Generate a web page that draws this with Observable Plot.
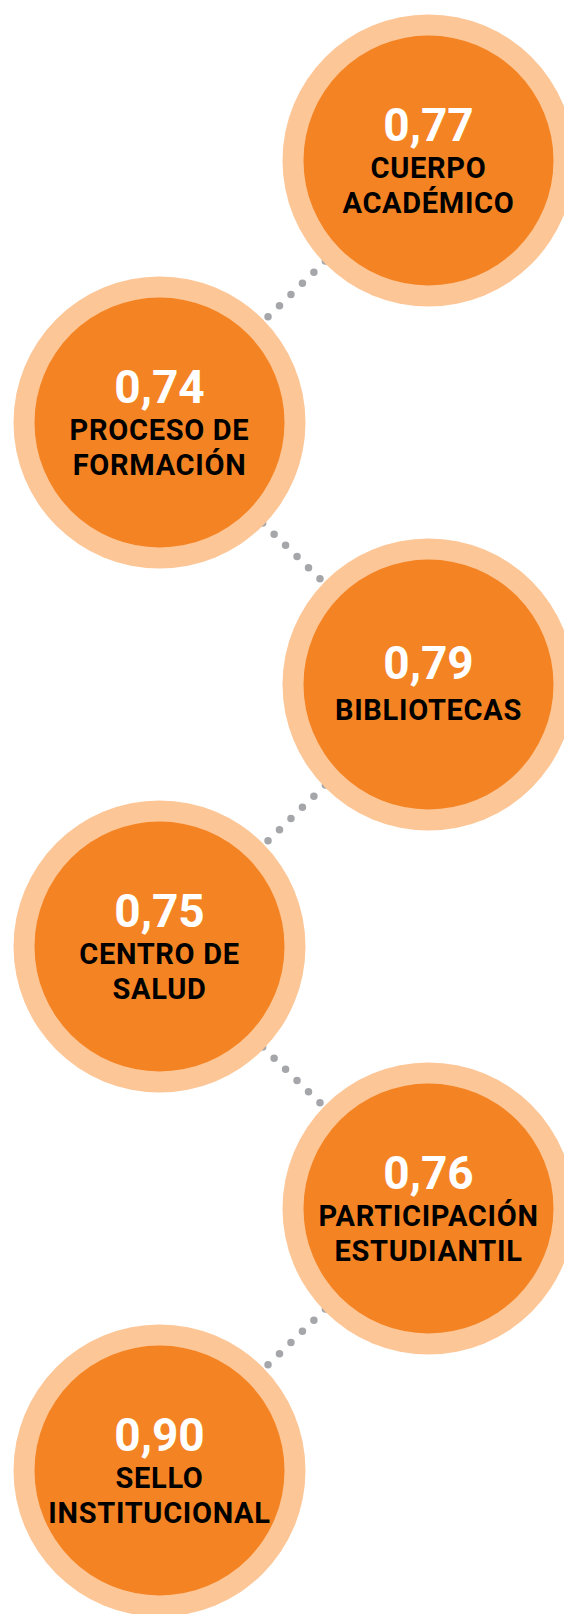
<!DOCTYPE html>
<html><head><meta charset="utf-8">
<script src="https://cdn.jsdelivr.net/npm/d3@7"></script>
<script src="https://cdn.jsdelivr.net/npm/@observablehq/plot@0.6"></script>
<style>html,body{margin:0;padding:0;background:#fff;overflow:hidden}</style>
</head><body><div id="chart"></div>
<script>
const categories = ["CUERPO\nACADÉMICO", "PROCESO DE\nFORMACIÓN", "BIBLIOTECAS", "CENTRO DE\nSALUD", "PARTICIPACIÓN\nESTUDIANTIL", "SELLO\nINSTITUCIONAL"];
const values = [0.77, 0.74, 0.79, 0.75, 0.76, 0.90];
const sides = ["right", "left", "right", "left", "right", "left"];

const fmt = v => d3.format(".2f")(v).replace(".", ",");
const data = categories.map((c, i) => ({
  order: i, side: sides[i], label: c, value: values[i],
  lines: c.split("\n").length, text: fmt(values[i])
}));
const links = data.slice(1).flatMap((d, i) => [
  {link: i, order: data[i].order, side: data[i].side},
  {link: i, order: d.order, side: d.side}
]);

const font = "Roboto, 'DejaVu Sans', sans-serif";
const chart = Plot.plot({
  width: 564, height: 1614,
  marginLeft: 159, marginRight: 136, marginTop: 158, marginBottom: 142,
  x: {type: "point", domain: ["left", "right"], padding: 0, axis: null},
  y: {type: "point", domain: d3.range(categories.length), padding: 0, axis: null},
  style: {fontFamily: font, background: "white", overflow: "visible"},
  marks: [
    Plot.line(links, {x: "side", y: "order", z: "link", stroke: "#A5A6AA", strokeWidth: 7.5,
      strokeDasharray: "0 16", strokeLinecap: "round"}),
    Plot.dot(data, {x: "side", y: "order", r: 146, fill: "#FDC697"}),
    Plot.dot(data, {x: "side", y: "order", r: 125, fill: "#F48423"}),
    Plot.text(data, {filter: d => d.lines > 1, x: "side", y: "order", text: "text", fill: "white",
      fontSize: 46, fontWeight: 700, fontFamily: font, lineAnchor: "bottom", dy: -20}),
    Plot.text(data, {filter: d => d.lines === 1, x: "side", y: "order", text: "text", fill: "white",
      fontSize: 46, fontWeight: 700, fontFamily: font, lineAnchor: "bottom", dy: -6}),
    Plot.text(data, {x: "side", y: "order", text: "label", fill: "#000",
      fontSize: 29, fontWeight: 700, fontFamily: font, lineAnchor: "middle", lineHeight: 1.2, dy: 24})
  ]
});
d3.select(chart).selectAll('g[fill="#000"] text').style("letter-spacing", "0.7px");
document.getElementById("chart").appendChild(chart);
</script>
</body></html>
